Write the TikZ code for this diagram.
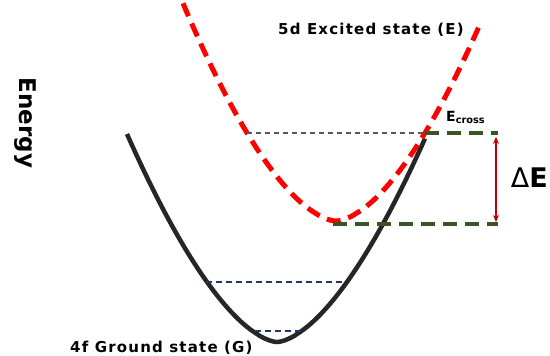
\documentclass[tikz,border=0pt]{standalone}
\usepackage{fontspec}
\setmainfont{DejaVu Sans}
\newfontfamily\lblfont[LetterSpace=8]{DejaVu Sans Bold}
\usetikzlibrary{arrows.meta,positioning}
\definecolor{exred}{HTML}{FF0000}
\definecolor{gdark}{HTML}{262626}
\definecolor{lvgreen}{HTML}{375623}
\definecolor{lvnavy}{HTML}{1F3864}
\definecolor{arrred}{HTML}{C00000}

\begin{document}
\begin{tikzpicture}[
    x=1pt, y=-1pt,
    lbl/.style={font=\lblfont\fontsize{15}{17}\selectfont, inner sep=1pt},
    excited/.style={exred, line width=5pt, dash pattern=on 14pt off 8pt},
    ground/.style={gdark, line width=4.5pt},
    refline/.style={black!65, line width=1.5pt, dash pattern=on 5pt off 4pt},
    crossline/.style={lvgreen, line width=3.5pt, dash pattern=on 14pt off 8pt},
    vibline/.style={lvnavy, line width=1.8pt, dash pattern=on 6pt off 4pt},
    darr/.style={{Stealth[length=7pt,width=6pt]}-{Stealth[length=7pt,width=6pt]}, arrred, line width=1.5pt}
]
\useasboundingbox (0,0) rectangle (550,356);

% potential curves
\draw[ground] plot[domain=127:425, samples=120, smooth]
    (\x, {342-208*pow((abs(\x-277)+0.001)/150,1.63)});
\draw[excited] plot[domain=183:481, samples=120, smooth]
    (\x, {221-206*pow((abs(\x-336)+0.001)/148,1.67)});

% levels
\coordinate (refL) at (247,133);
\coordinate (crossA) at (425,133);
\coordinate (crossB) at (498,133);
\coordinate (minA) at (333,224);
\coordinate (minB) at (498,224);
\coordinate (vibAL) at (206,282);
\coordinate (vibAR) at (345,282);
\coordinate (vibBL) at (255,331);
\coordinate (vibBR) at (305,331);
\coordinate (arrTop) at (496,137);
\coordinate (arrBot) at (496,222);

\draw[refline] (refL) -- (crossA);
\draw[crossline] (crossA) -- (crossB);
\draw[crossline] (minA) -- (minB);
\draw[vibline] (vibAL) -- (vibAR);
\draw[vibline] (vibBL) -- (vibBR);
\draw[darr] (arrTop) -- (arrBot);

% labels
\node[lbl] (exname) at (371,30) {5d Excited state (E)};
\node[lbl, anchor=west] (gsname) at (69,348) {4f Ground state (G)};
\node[rotate=-90, inner sep=0pt, font=\bfseries\fontsize{23}{26}\selectfont] (energy) at (25,123) {Energy};
\node[inner sep=0pt, anchor=south west, font=\bfseries\fontsize{14}{16}\selectfont] (ecross) at (446,124) {E\textsubscript{cross}};
\node[inner sep=0pt, font=\fontsize{27}{30}\selectfont, anchor=east] (dE) at (548,178) {Δ\textbf{E}};
\end{tikzpicture}
\end{document}
